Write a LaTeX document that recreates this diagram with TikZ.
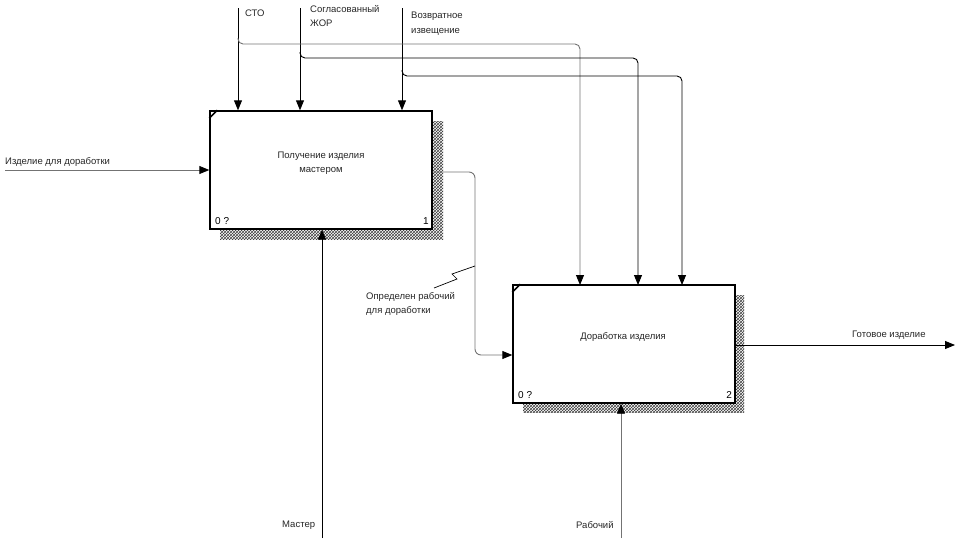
\documentclass[tikz,border=0pt]{standalone}
\usepackage{fontspec}
\setmainfont{Liberation Sans}
\usetikzlibrary{arrows.meta, positioning, patterns}

\begin{document}
\begin{tikzpicture}[
  x=1pt, y=-1pt,
  font=\fontsize{9.5}{14.5}\selectfont,
  func/.style={draw, line width=1.4pt, fill=white, minimum width=222pt, minimum height=118pt, inner sep=0pt, align=center},
  shadow/.style={pattern=crosshatch, pattern color=black!75},
  arr/.style={-{Triangle[length=10pt, width=8pt]}, line width=0.9pt},
  garr/.style={-{Triangle[length=10pt, width=8pt, color=black]}, line width=0.9pt, draw=black!55},
  lbl/.style={anchor=north west, align=left, inner sep=0pt, text=black!85},
  tag/.style={inner sep=0pt, font=\fontsize{10}{10}\selectfont}
]
\useasboundingbox (0,0) rectangle (957,538);

% ----- Ombres des blocs -----
\fill[shadow] (220,121) rectangle (443,239);
\fill[shadow] (523,295) rectangle (744,412);

% ----- Blocs fonctionnels -----
\node[func] (recv) at (321,170) {};
\node[func] (rework) at (624,344) {};
\node[text=black!85, align=center] at (321,163) {Получение изделия\\мастером};
\node[text=black!85] at (623,337) {Доработка изделия};

% ----- Coins et numéros -----
\draw[line width=1.6pt] ([yshift=-8pt]recv.north west) -- ([xshift=8pt]recv.north west);
\draw[line width=1.6pt] ([yshift=-8pt]rework.north west) -- ([xshift=8pt]rework.north west);
\node[tag, anchor=south west] at (215,225) {0 ?};
\node[tag, anchor=south east] at (429,225) {1};
\node[tag, anchor=south west] at (518,399) {0 ?};
\node[tag, anchor=south east] at (732,399) {2};

% ----- Points libres -----
\coordinate (stoTop) at (238,8);
\coordinate (jorTop) at (300,8);
\coordinate (vozTop) at (402,8);
\coordinate (inLeft) at (5,170);
\coordinate (outRight) at (955,345);
\coordinate (masBot) at (322,538);
\coordinate (rabBot) at (621,538);

% ----- Étiquettes -----
\node[lbl] (stoLbl) at (245,10) {СТО};
\node[lbl] (jorLbl) at (310,5) {Согласованный\\ЖОР};
\node[lbl] (vozLbl) at (411,12) {Возвратное\\извещение};
\node[lbl] (inLbl) at (5,157) {Изделие для доработки};
\node[lbl] (midLbl) at (366,292) {Определен рабочий\\для доработки};
\node[lbl] (outLbl) at (852,331) {Готовое изделие};
\node[lbl] (masLbl) at (282,521) {Мастер};
\node[lbl] (rabLbl) at (576,521) {Рабочий};

% ----- Управления vers le bloc 1 -----
\draw[arr] (stoTop) -- (stoTop |- recv.north);
\draw[arr] (jorTop) -- (jorTop |- recv.north);
\draw[arr] (vozTop) -- (vozTop |- recv.north);

% ----- Branches vers le bloc 2 -----
\draw[garr, rounded corners=5pt] (238,38) |- (580,44) -- (580,285);
\draw[arr, rounded corners=5pt] (300,52) |- (638,58) -- (638,285);
\draw[arr, rounded corners=5pt] (402,70) |- (682,76) -- (682,285);

% ----- Entrée, sortie, mécanismes -----
\draw[garr] (inLeft) -- (recv.west |- inLeft);
\draw[garr, rounded corners=6pt] (recv.east |- 0,172) -- (475,172) |- (rework.west |- 0,355);
\draw[arr] (rework.east |- outRight) -- (outRight);
\draw[arr] (masBot) -- (masBot |- recv.south);
\draw[garr] (rabBot) -- (rabBot |- rework.south);

% ----- Renvoi de l'étiquette -----
\draw[line width=0.7pt] (434,288) -- (457,279) -- (452,274) -- (475,266);

\end{tikzpicture}
\end{document}
